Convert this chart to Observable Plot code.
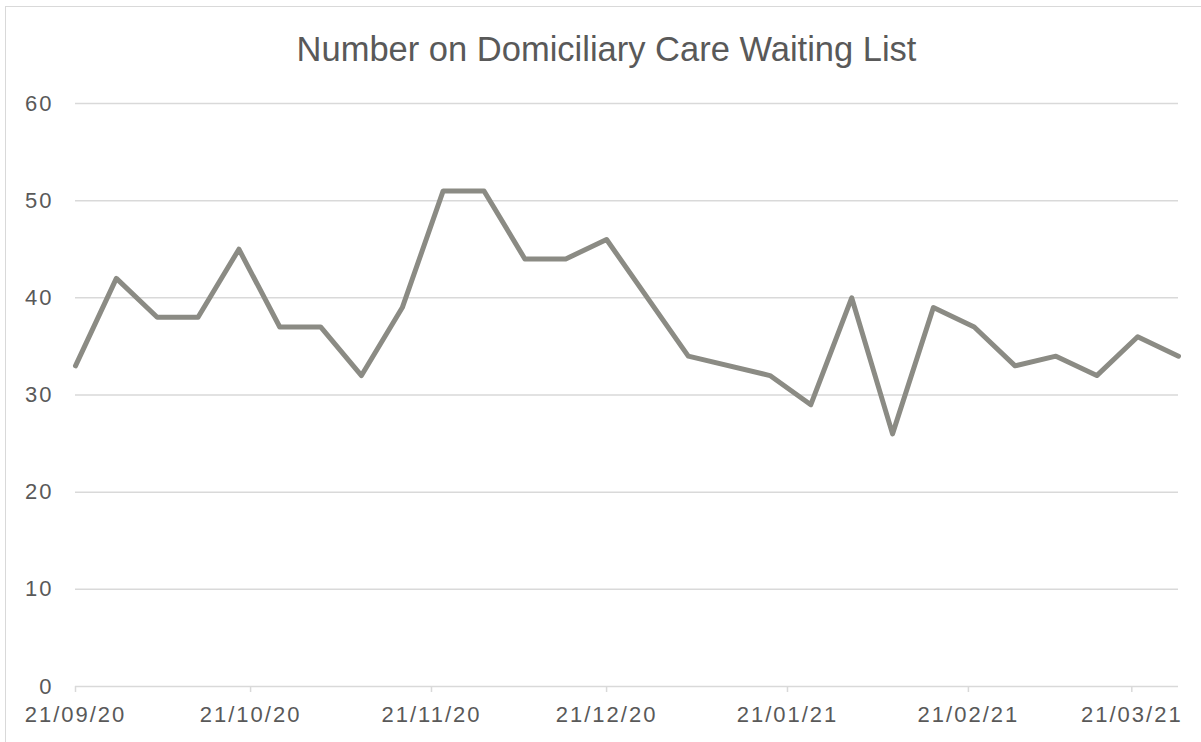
<!DOCTYPE html>
<html>
<head>
<meta charset="utf-8">
<script src="https://cdn.jsdelivr.net/npm/d3@7"></script>
<script src="https://cdn.jsdelivr.net/npm/@observablehq/plot@0.6"></script>
<style>
  html, body { margin: 0; padding: 0; background: #fff; }
  #wrap { position: relative; width: 1201px; height: 742px; overflow: hidden; background: #fff; }
  #frame { position: absolute; left: 5px; top: 6px; width: 1300px; height: 900px; border: 1.5px solid #d9d9d9; box-sizing: border-box; }
  #title { position: absolute; left: 0; width: 1213px; top: 32px; text-align: center; font-family: "Liberation Sans", Arial, sans-serif; font-size: 34.5px; line-height: 1; color: #595959; white-space: nowrap; }
  #chart { position: absolute; left: 0; top: 80px; }
  #chart svg text { font-family: "Liberation Sans", Arial, sans-serif; font-size: 22px; fill: #595959; letter-spacing: 2px; }
</style>
</head>
<body>
<div id="wrap">
  <div id="frame"></div>
  <div id="title">Number on Domiciliary Care Waiting List</div>
  <div id="chart"></div>
</div>
<script>
const dates = ["2020-09-21","2020-09-28","2020-10-05","2020-10-12","2020-10-19","2020-10-26","2020-11-02","2020-11-09","2020-11-16","2020-11-23","2020-11-30","2020-12-07","2020-12-14","2020-12-21","2021-01-04","2021-01-18","2021-01-25","2021-02-01","2021-02-08","2021-02-15","2021-02-22","2021-03-01","2021-03-08","2021-03-15","2021-03-22","2021-03-29"];
const waiting = [33,42,38,38,45,37,37,32,39,51,51,44,44,46,34,32,29,40,26,39,37,33,34,32,36,34];
const xTickDates = ["2020-09-21","2020-10-21","2020-11-21","2020-12-21","2021-01-21","2021-02-21","2021-03-21"];
const yTicks = [0,10,20,30,40,50,60];

const parse = d3.utcParse("%Y-%m-%d");
const data = dates.map((d, i) => ({date: parse(d), value: waiting[i]}));
const xt = xTickDates.map(parse);
const xStart = parse(dates[0]);
const xEnd = parse(dates[dates.length - 1]);

const plot = Plot.plot({
  width: 1201,
  height: 662,
  marginLeft: 75,
  marginRight: 21,
  marginTop: 23,
  marginBottom: 56,
  style: {background: "transparent", overflow: "visible"},
  x: {type: "utc", domain: [xStart, xEnd], range: [75, 1178]},
  y: {domain: [0, 60]},
  marks: [
    Plot.ruleY(yTicks, {stroke: "#d9d9d9", strokeWidth: 1.5, x1: xStart, x2: xEnd, dx: 0}),
    Plot.axisY({ticks: yTicks, tickSize: 0, tickPadding: 22, tickFormat: d => String(d), label: null}),
    Plot.axisX({ticks: xt, tickSize: 6, tickPadding: 14, stroke: "#d9d9d9", strokeWidth: 1.5, tickFormat: d3.utcFormat("%d/%m/%y"), label: null}),
    Plot.lineY(data, {x: "date", y: "value", stroke: "#8b8b84", strokeWidth: 5, strokeLinejoin: "round", strokeLinecap: "round"})
  ]
});
document.getElementById("chart").appendChild(plot);
</script>
</body>
</html>
